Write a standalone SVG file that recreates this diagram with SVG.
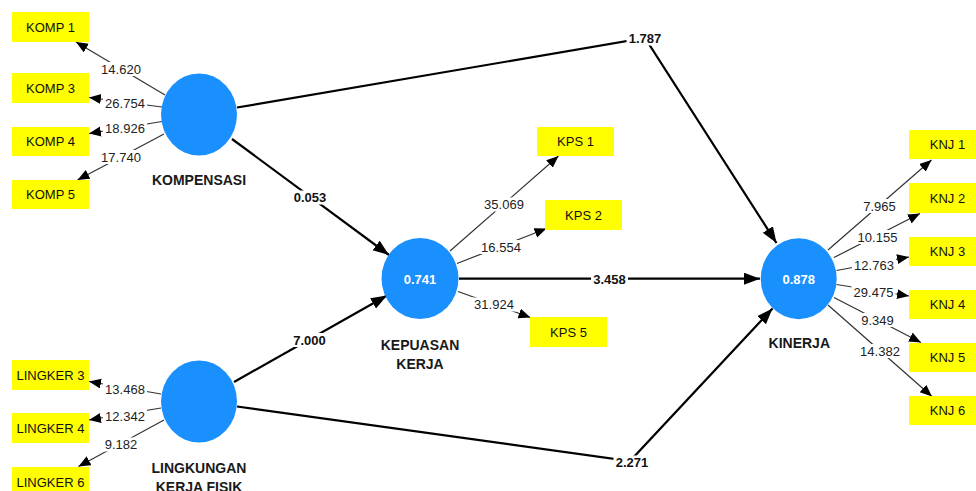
<svg xmlns="http://www.w3.org/2000/svg" width="976" height="491" viewBox="0 0 976 491">
  <style>
    .ind rect { fill: #ffff00; }
    .ind text { font: 13px "Liberation Sans", Arial, sans-serif; fill: #111; text-anchor: middle; }
    .lv ellipse { fill: #1a90ff; }
    .lv .r2 { font: bold 13px "Liberation Sans", Arial, sans-serif; fill: #ffffff; text-anchor: middle; }
    .lv .name { font: bold 14px "Liberation Sans", Arial, sans-serif; fill: #1a1a1a; text-anchor: middle; }
    .outer { stroke: #333; stroke-width: 1.2; fill: none; marker-end: url(#arrS); }
    .inner { stroke: #000; stroke-width: 2.2; fill: none; marker-end: url(#arrL); }
    .bg { fill: #fff; }
    .lbl { font: 13px "Liberation Sans", Arial, sans-serif; fill: #222; text-anchor: middle; }
    .blbl { font: bold 13px "Liberation Sans", Arial, sans-serif; fill: #111; text-anchor: middle; }
  </style>
  <defs>
    <marker id="arrS" markerUnits="userSpaceOnUse" markerWidth="13" markerHeight="11" refX="12" refY="5" orient="auto">
      <path d="M0,0 L12,5 L0,10 z" fill="#000"/>
    </marker>
    <marker id="arrL" markerUnits="userSpaceOnUse" markerWidth="17" markerHeight="13" refX="16" refY="6" orient="auto">
      <path d="M0,0 L16,6 L0,12 z" fill="#000"/>
    </marker>
  </defs>
  <rect width="976" height="491" fill="#fff"/>

  <!-- connectors -->
  <g id="connectors">
    <!-- outer loadings: KOMPENSASI -->
    <line class="outer" x1="165" y1="95" x2="76" y2="42"/>
    <line class="outer" x1="162" y1="107" x2="89" y2="97.5"/>
    <line class="outer" x1="162" y1="121.5" x2="89" y2="133.5"/>
    <line class="outer" x1="164" y1="134" x2="77.5" y2="180"/>
    <!-- outer loadings: LINGKUNGAN KERJA FISIK -->
    <line class="outer" x1="161" y1="394" x2="89" y2="381.5"/>
    <line class="outer" x1="161" y1="408" x2="89" y2="420"/>
    <line class="outer" x1="164" y1="420" x2="78.5" y2="466.5"/>
    <!-- outer loadings: KEPUASAN KERJA -->
    <line class="outer" x1="450" y1="251" x2="558.5" y2="156"/>
    <line class="outer" x1="457" y1="263.5" x2="546.5" y2="228.5"/>
    <line class="outer" x1="458" y1="291.5" x2="530.5" y2="317.5"/>
    <!-- outer loadings: KINERJA -->
    <line class="outer" x1="828" y1="250" x2="931.5" y2="160"/>
    <line class="outer" x1="834" y1="257.5" x2="920" y2="213.5"/>
    <line class="outer" x1="836.5" y1="270.5" x2="909" y2="257"/>
    <line class="outer" x1="836.5" y1="284.5" x2="909" y2="296"/>
    <line class="outer" x1="834" y1="297.5" x2="921" y2="342.5"/>
    <line class="outer" x1="828" y1="305" x2="932" y2="396.5"/>

    <!-- structural paths -->
    <line class="inner" x1="232" y1="139" x2="389" y2="255"/>
    <line class="inner" x1="234" y1="382" x2="387" y2="295.5"/>
    <line class="inner" x1="459" y1="278.7" x2="760" y2="278.7"/>
    <polyline class="inner" points="237,107.5 645,38 776.5,243"/>
    <polyline class="inner" points="237,406.5 630,461 772.5,308.5"/>

    <!-- label backgrounds -->
    <rect class="bg" x="99" y="62" width="44" height="14"/>
    <rect class="bg" x="103" y="96.5" width="44" height="14"/>
    <rect class="bg" x="103" y="121.5" width="44" height="14"/>
    <rect class="bg" x="99" y="150" width="44" height="14"/>
    <rect class="bg" x="103" y="382.5" width="44" height="14"/>
    <rect class="bg" x="103" y="409" width="44" height="14"/>
    <rect class="bg" x="102.5" y="437.5" width="37" height="14"/>
    <rect class="bg" x="482" y="197.5" width="44" height="14"/>
    <rect class="bg" x="479" y="240" width="44" height="14"/>
    <rect class="bg" x="472" y="297.5" width="44" height="14"/>
    <rect class="bg" x="861" y="199" width="37" height="14"/>
    <rect class="bg" x="855.5" y="230" width="44" height="14"/>
    <rect class="bg" x="852" y="258" width="44" height="14"/>
    <rect class="bg" x="851.5" y="285" width="44" height="14"/>
    <rect class="bg" x="859" y="313" width="37" height="14"/>
    <rect class="bg" x="858" y="344" width="44" height="14"/>
    <rect class="bg" x="291.5" y="190.5" width="37" height="14"/>
    <rect class="bg" x="291" y="333" width="37" height="14"/>
    <rect class="bg" x="591" y="272.5" width="37" height="14"/>
    <rect class="bg" x="626.5" y="31.5" width="37" height="14"/>
    <rect class="bg" x="613.5" y="455.5" width="37" height="14"/>

    <!-- outer loading values -->
    <text class="lbl" x="121" y="73.5">14.620</text>
    <text class="lbl" x="125" y="108">26.754</text>
    <text class="lbl" x="125" y="133">18.926</text>
    <text class="lbl" x="121" y="161.5">17.740</text>
    <text class="lbl" x="125" y="394">13.468</text>
    <text class="lbl" x="125" y="420.5">12.342</text>
    <text class="lbl" x="121" y="449">9.182</text>
    <text class="lbl" x="504" y="209">35.069</text>
    <text class="lbl" x="501" y="251.5">16.554</text>
    <text class="lbl" x="494" y="309">31.924</text>
    <text class="lbl" x="879.5" y="210.5">7.965</text>
    <text class="lbl" x="877.5" y="241.5">10.155</text>
    <text class="lbl" x="874" y="269.5">12.763</text>
    <text class="lbl" x="873.5" y="296.5">29.475</text>
    <text class="lbl" x="877.5" y="324.5">9.349</text>
    <text class="lbl" x="880" y="355.5">14.382</text>

    <!-- path coefficients -->
    <text class="blbl" x="310" y="202">0.053</text>
    <text class="blbl" x="309.5" y="344.5">7.000</text>
    <text class="blbl" x="609.5" y="284">3.458</text>
    <text class="blbl" x="645" y="43">1.787</text>
    <text class="blbl" x="632" y="467">2.271</text>
  </g>

  <!-- latent variables -->
  <g id="kompensasi" class="lv">
    <ellipse cx="199" cy="114.5" rx="38" ry="41"/>
    <text class="name" x="199" y="185">KOMPENSASI</text>
  </g>
  <g id="lingkungan-kerja-fisik" class="lv">
    <ellipse cx="199" cy="401.5" rx="38" ry="41"/>
    <text class="name" x="199" y="473">LINGKUNGAN</text>
    <text class="name" x="199" y="492">KERJA FISIK</text>
  </g>
  <g id="kepuasan-kerja" class="lv">
    <ellipse cx="420" cy="278.5" rx="38.5" ry="40.5"/>
    <text class="r2" x="420" y="283.5">0.741</text>
    <text class="name" x="420" y="349.5">KEPUASAN</text>
    <text class="name" x="420" y="368.5">KERJA</text>
  </g>
  <g id="kinerja" class="lv">
    <ellipse cx="798.7" cy="278.7" rx="38" ry="40.5"/>
    <text class="r2" x="798.7" y="283.5">0.878</text>
    <text class="name" x="799.3" y="348">KINERJA</text>
  </g>

  <!-- indicators -->
  <g id="komp1" class="ind"><rect x="12" y="12" width="77" height="30"/><text x="50.5" y="31.5">KOMP 1</text></g>
  <g id="komp3" class="ind"><rect x="12" y="73" width="77" height="30"/><text x="50.5" y="92.5">KOMP 3</text></g>
  <g id="komp4" class="ind"><rect x="12" y="127" width="77" height="29"/><text x="50.5" y="146">KOMP 4</text></g>
  <g id="komp5" class="ind"><rect x="12" y="180" width="77" height="29"/><text x="50.5" y="199">KOMP 5</text></g>

  <g id="lingker3" class="ind"><rect x="12" y="360" width="77" height="30"/><text x="50.5" y="379.5">LINGKER 3</text></g>
  <g id="lingker4" class="ind"><rect x="12" y="413" width="77" height="30"/><text x="50.5" y="432.5">LINGKER 4</text></g>
  <g id="lingker6" class="ind"><rect x="12" y="467" width="77" height="30"/><text x="50.5" y="486.5">LINGKER 6</text></g>

  <g id="kps1" class="ind"><rect x="537" y="127" width="77" height="29"/><text x="575.5" y="146">KPS 1</text></g>
  <g id="kps2" class="ind"><rect x="545" y="200" width="77" height="30"/><text x="583.5" y="219.5">KPS 2</text></g>
  <g id="kps5" class="ind"><rect x="530" y="317" width="77" height="30"/><text x="568.5" y="336.5">KPS 5</text></g>

  <g id="knj1" class="ind"><rect x="909" y="130" width="77" height="29"/><text x="947.5" y="149">KNJ 1</text></g>
  <g id="knj2" class="ind"><rect x="909" y="183" width="77" height="30"/><text x="947.5" y="202.5">KNJ 2</text></g>
  <g id="knj3" class="ind"><rect x="909" y="237" width="77" height="29"/><text x="947.5" y="256">KNJ 3</text></g>
  <g id="knj4" class="ind"><rect x="909" y="290" width="77" height="29"/><text x="947.5" y="309">KNJ 4</text></g>
  <g id="knj5" class="ind"><rect x="909" y="343" width="77" height="29"/><text x="947.5" y="362">KNJ 5</text></g>
  <g id="knj6" class="ind"><rect x="909" y="396" width="77" height="29"/><text x="947.5" y="415">KNJ 6</text></g>
</svg>
